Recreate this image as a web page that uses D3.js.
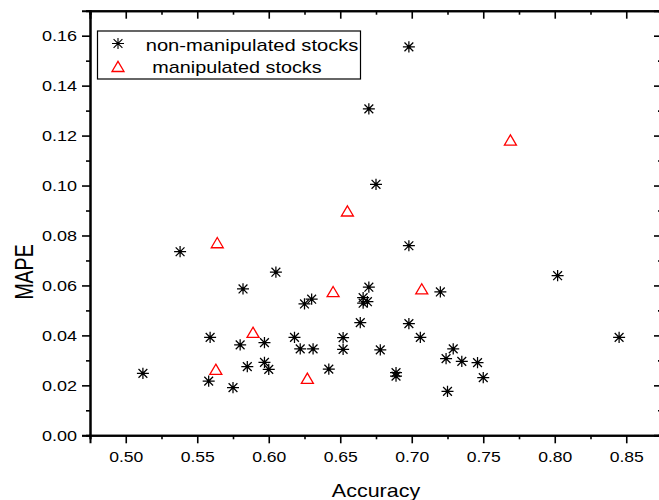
<!DOCTYPE html>
<html><head><meta charset="utf-8">
<script src="https://cdnjs.cloudflare.com/ajax/libs/d3/7.8.5/d3.min.js"></script>
<style>
html,body{margin:0;padding:0;background:#fff;}
svg{display:block;}
text{font-family:"Liberation Sans",Arial,sans-serif;fill:#000;}
</style></head><body>
<svg id="c" width="659" height="500"></svg>
<script>
// ---- data ----
const nonAccuracy = [0.698,0.670,0.675,0.698,0.538,0.605,0.582,0.625,0.630,0.559,0.580,0.597,0.618,0.622,0.631,0.585,0.597,0.600,0.512,0.558,0.575,0.642,0.802,0.720,0.670,0.666,0.669,0.666,0.664,0.652,0.652,0.678,0.689,0.689,0.698,0.706,0.729,0.724,0.735,0.746,0.750,0.725,0.845];
const nonMAPE     = [0.1555,0.1307,0.1005,0.0759,0.0735,0.0653,0.0586,0.0526,0.0545,0.0392,0.0362,0.0371,0.0392,0.0346,0.0346,0.0275,0.0292,0.0264,0.0248,0.0217,0.0191,0.0265,0.0639,0.0574,0.0593,0.0551,0.0535,0.0529,0.0451,0.0391,0.0344,0.0342,0.0251,0.0237,0.0447,0.0392,0.0346,0.0307,0.0296,0.0291,0.0231,0.0176,0.0392];
const manAccuracy = [0.564,0.655,0.769,0.589,0.563,0.627,0.645,0.707];
const manMAPE     = [0.0771,0.0898,0.1182,0.0412,0.0264,0.0228,0.0575,0.0586];
const xTickValues = [0.50,0.55,0.60,0.65,0.70,0.75,0.80,0.85];
const xMinorValues = [0.475,0.525,0.575,0.625,0.675,0.725,0.775,0.825,0.875];
const yTickValues = [0,0.02,0.04,0.06,0.08,0.10,0.12,0.14,0.16];
const yMinorValues = [0.01,0.03,0.05,0.07,0.09,0.11,0.13,0.15,0.17];
const legendLabels = ["non-manipulated stocks"," manipulated stocks"];
const xTitle = "Accuracy", yTitle = "MAPE";

// ---- layout ----
const L = 90, R = 662, T = 10.7, B = 435.3;
const svg = d3.select("#c");
const x = d3.scaleLinear().domain([0.475,0.875]).range([L,R]);
const y = d3.scaleLinear().domain([0,0.17]).range([B,T]);
const fmt = d3.format(".2f");

function stretch(sel, k){
  sel.each(function(){
    const w = this.getComputedTextLength();
    d3.select(this).attr("textLength", w*k).attr("lengthAdjust","spacingAndGlyphs");
  });
}

// bottom axis
const gB = svg.append("g").attr("transform",`translate(0,${B})`)
  .call(d3.axisBottom(x).tickValues(xTickValues).tickFormat(fmt).tickSize(8).tickPadding(8));
svg.append("g").attr("transform",`translate(0,${B})`)
  .call(d3.axisBottom(x).tickValues(xMinorValues).tickFormat("").tickSize(4));
// top axis (inward)
svg.append("g").attr("transform",`translate(0,${T})`)
  .call(d3.axisTop(x).tickValues(xTickValues).tickFormat("").tickSize(-8));
svg.append("g").attr("transform",`translate(0,${T})`)
  .call(d3.axisTop(x).tickValues(xMinorValues).tickFormat("").tickSize(-4));
// left axis
const gL = svg.append("g").attr("transform",`translate(${L},0)`)
  .call(d3.axisLeft(y).tickValues(yTickValues).tickFormat(fmt).tickSize(8).tickPadding(5));
svg.append("g").attr("transform",`translate(${L},0)`)
  .call(d3.axisLeft(y).tickValues(yMinorValues).tickFormat("").tickSize(4));
// right axis (inward)
svg.append("g").attr("transform",`translate(${R},0)`)
  .call(d3.axisRight(y).tickValues(yTickValues).tickFormat("").tickSize(-8));
svg.append("g").attr("transform",`translate(${R},0)`)
  .call(d3.axisRight(y).tickValues(yMinorValues).tickFormat("").tickSize(-4));

svg.selectAll(".domain").attr("stroke","#000").attr("stroke-width",2);
svg.selectAll(".tick line").attr("stroke","#000").attr("stroke-width",1.6);
svg.selectAll(".tick text").attr("font-size",15).attr("font-family","Liberation Sans, Arial, sans-serif").attr("fill","#000");
stretch(gB.selectAll(".tick text"),1.17);
stretch(gL.selectAll(".tick text"),1.2);

// axis titles
const tx = svg.append("text").attr("x",(L+R)/2).attr("y",497).attr("text-anchor","middle")
  .attr("font-size",19).text(xTitle);
stretch(tx,1.13);
svg.append("text").attr("transform","translate(33,272) scale(1.3,1) rotate(-90)").attr("text-anchor","middle")
  .attr("font-size",19.5).text(yTitle);

// markers
function starPath(cx,cy){
  const h=6, v=5.6, d=4.4;
  return `M${cx-h},${cy}H${cx+h}M${cx},${cy-v}V${cy+v}M${cx-d},${cy-d}L${cx+d},${cy+d}M${cx-d},${cy+d}L${cx+d},${cy-d}`;
}
function triPath(cx,cy){
  return `M${cx},${cy-5.2}L${cx+6},${cy+5}L${cx-6},${cy+5}Z`;
}
const nonData = nonAccuracy.map((a,i)=>({a, m:nonMAPE[i]}));
const manData = manAccuracy.map((a,i)=>({a, m:manMAPE[i]}));

svg.append("g").selectAll("path").data(nonData).join("path")
  .attr("d",d=>starPath(x(d.a),y(d.m))).attr("stroke","#000").attr("stroke-width",1.25).attr("fill","none");
svg.append("g").selectAll("circle").data(nonData).join("circle")
  .attr("cx",d=>x(d.a)).attr("cy",d=>y(d.m)).attr("r",1.5).attr("fill","#000");
svg.append("g").selectAll("path").data(manData).join("path")
  .attr("d",d=>triPath(x(d.a),y(d.m))).attr("stroke","#ff0000").attr("stroke-width",1.3).attr("fill","none");

// legend
const lg = svg.append("g");
lg.append("rect").attr("x",97.5).attr("y",31).attr("width",263).attr("height",48)
  .attr("fill","#fff").attr("stroke","#000").attr("stroke-width",1.2);
lg.append("path").attr("d",starPath(118,43.5)).attr("stroke","#000").attr("stroke-width",1.1).attr("fill","none");
lg.append("circle").attr("cx",118).attr("cy",43.5).attr("r",1.2).attr("fill","#000");
lg.append("path").attr("d",triPath(118,66.5)).attr("stroke","#ff0000").attr("stroke-width",1.3).attr("fill","none");
const lt1 = lg.append("text").attr("x",145.7).attr("y",51).attr("font-size",17).text(legendLabels[0]);
lt1.attr("textLength",212.7).attr("lengthAdjust","spacingAndGlyphs");
const lt2 = lg.append("text").attr("x",152.3).attr("y",72.7).attr("font-size",17).text(legendLabels[1].trim());
lt2.attr("textLength",169.3).attr("lengthAdjust","spacingAndGlyphs");
</script>
</body></html>
